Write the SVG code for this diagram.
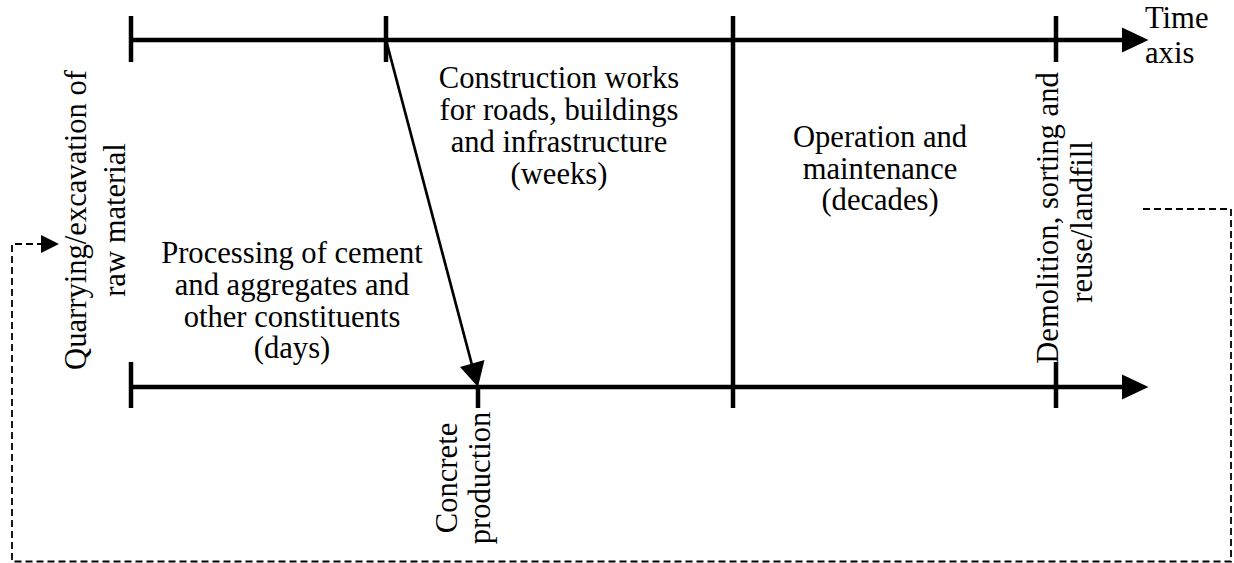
<svg xmlns="http://www.w3.org/2000/svg" width="1234" height="563" viewBox="0 0 1234 563">
<style>
  .lbl { font-family: "Liberation Serif", "Times New Roman", serif; font-size: 30.6px; fill: #000; }
  .mid { text-anchor: middle; }
  .axis { stroke: #000; stroke-width: 4.5; fill: none; }
  .tick { stroke: #000; stroke-width: 4.5; fill: none; }
  .head { fill: #000; stroke: none; }
  .diag { stroke: #000; stroke-width: 2.7; fill: none; }
  .loop { stroke: #000; stroke-width: 1.8; fill: none; stroke-dasharray: 7 4; }
</style>
<rect width="1234" height="563" fill="#fff"/>

<g id="time-axis-top">
  <line class="axis" x1="131" y1="40" x2="1126" y2="40"/>
  <polygon class="head" points="1122,27.5 1148.5,40 1122,52.5"/>
  <line class="tick" x1="131" y1="16" x2="131" y2="62"/>
  <line class="tick" x1="386" y1="16" x2="386" y2="62"/>
  <line class="tick" x1="1056" y1="16" x2="1056" y2="62"/>
</g>

<g id="time-axis-bottom">
  <line class="axis" x1="131" y1="387" x2="1126" y2="387"/>
  <polygon class="head" points="1122,374.5 1148.5,387 1122,399.5"/>
  <line class="tick" x1="131" y1="362" x2="131" y2="408"/>
  <line class="tick" x1="478" y1="387" x2="478" y2="408"/>
  <line class="tick" x1="1056" y1="362" x2="1056" y2="408"/>
</g>

<g id="divider-operation">
  <line class="tick" x1="733" y1="16" x2="733" y2="408"/>
</g>

<g id="time-axis-label">
  <text class="lbl" x="1145" y="28">Time</text>
  <text class="lbl" x="1145" y="63">axis</text>
</g>

<g id="node-quarrying">
  <text class="lbl mid" transform="translate(86,220) rotate(-90)">Quarrying/excavation of</text>
  <text class="lbl mid" transform="translate(125,220) rotate(-90)">raw material</text>
</g>

<g id="node-processing">
  <text class="lbl mid" x="292" y="263">Processing of cement</text>
  <text class="lbl mid" x="292" y="295">and aggregates and</text>
  <text class="lbl mid" x="292" y="327">other constituents</text>
  <text class="lbl mid" x="292" y="358">(days)</text>
</g>

<g id="node-construction">
  <text class="lbl mid" x="559" y="88">Construction works</text>
  <text class="lbl mid" x="559" y="120">for roads, buildings</text>
  <text class="lbl mid" x="559" y="152">and infrastructure</text>
  <text class="lbl mid" x="559" y="184">(weeks)</text>
</g>

<g id="node-operation">
  <text class="lbl mid" x="880" y="147">Operation and</text>
  <text class="lbl mid" x="880" y="179">maintenance</text>
  <text class="lbl mid" x="880" y="210">(decades)</text>
</g>

<g id="node-demolition">
  <text class="lbl mid" transform="translate(1058,218) rotate(-90)">Demolition, sorting and</text>
  <text class="lbl mid" transform="translate(1092,222) rotate(-90)">reuse/landfill</text>
</g>

<g id="node-concrete">
  <text class="lbl mid" transform="translate(457,478) rotate(-90)">Concrete</text>
  <text class="lbl mid" transform="translate(490,478) rotate(-90)">production</text>
</g>

<g id="connectors">
  <line class="diag" x1="386" y1="40" x2="472" y2="365"/>
  <polygon class="head" points="460,367 484.5,360 478,387"/>
  <polyline class="loop" points="1143,209 1231,209 1231,561.5 12,561.5 12,244 42,244"/>
  <polygon class="head" points="41,235 59,244 41,253"/>
</g>
</svg>
